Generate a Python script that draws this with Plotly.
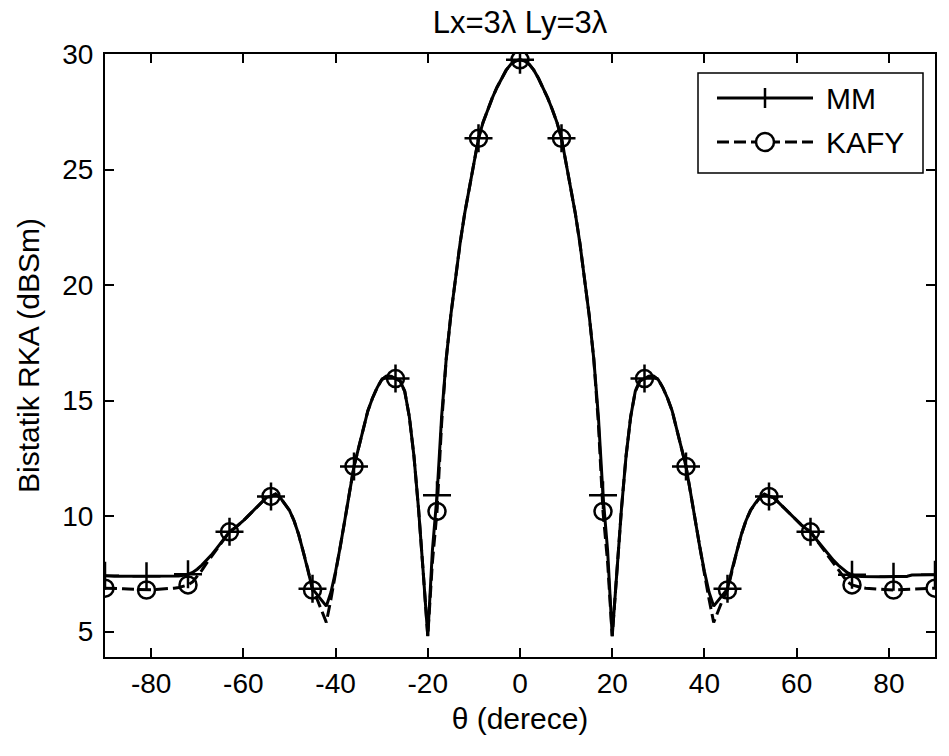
import plotly.graph_objects as go

# Bistatic RCS of a 3λ x 3λ plate: MoM (MM) versus the KAFY approximation
THETA = list(range(-90, 91))

MM = [
    7.42, 7.40, 7.40, 7.40, 7.40, 7.40, 7.40, 7.40, 7.40, 7.40,      # -90..-81
    7.40, 7.40, 7.40, 7.40, 7.40, 7.40, 7.41, 7.44, 7.48, 7.56,      # -80..-71
    7.70, 7.88, 8.08, 8.30, 8.55, 8.80, 9.05, 9.32, 9.46, 9.62,      # -70..-61
    9.80, 10.00, 10.20, 10.40, 10.60, 10.80, 10.85, 10.95, 10.80, 10.55,  # -60..-51
    10.25, 9.80, 9.20, 8.45, 7.70, 6.85, 6.60, 6.35, 6.10, 6.70,     # -50..-41
    7.60, 8.65, 9.80, 11.00, 12.15, 12.95, 13.75, 14.55, 15.10, 15.55,  # -40..-31
    15.90, 16.05, 16.05, 15.95, 15.85, 15.40, 14.30, 12.60, 10.30, 7.60,  # -30..-21
    4.80, 8.50, 10.90, 14.30, 16.80, 18.70, 20.30, 21.80, 23.10, 24.20,  # -20..-11
    25.30, 26.35, 27.05, 27.60, 28.10, 28.55, 28.95, 29.30, 29.55, 29.70,  # -10..-1
    29.75,                                                            # 0
    29.70, 29.55, 29.30, 28.95, 28.55, 28.10, 27.60, 27.05, 26.35, 25.30,  # 1..10
    24.20, 23.10, 21.80, 20.30, 18.70, 16.80, 14.30, 10.90, 8.50, 4.80,  # 11..20
    7.60, 10.30, 12.60, 14.30, 15.40, 15.85, 15.95, 16.05, 16.05, 15.90,  # 21..30
    15.55, 15.10, 14.55, 13.75, 12.95, 12.15, 11.00, 9.80, 8.65, 7.60,  # 31..40
    6.70, 6.10, 6.35, 6.60, 6.85, 7.70, 8.45, 9.20, 9.80, 10.25,     # 41..50
    10.55, 10.80, 10.95, 10.85, 10.80, 10.60, 10.40, 10.20, 10.00, 9.80,  # 51..60
    9.62, 9.46, 9.32, 9.05, 8.80, 8.55, 8.30, 8.08, 7.88, 7.70,      # 61..70
    7.55, 7.46, 7.40, 7.38, 7.37, 7.37, 7.37, 7.37, 7.37, 7.37,      # 71..80
    7.37, 7.37, 7.38, 7.40, 7.45, 7.46, 7.46, 7.46, 7.46, 7.46,      # 81..90
]

KAFY = [
    6.88, 6.88, 6.87, 6.86, 6.85, 6.84, 6.83, 6.82, 6.81, 6.80,      # -90..-81
    6.81, 6.82, 6.83, 6.84, 6.86, 6.88, 6.91, 6.95, 7.02, 7.15,      # -80..-71
    7.38, 7.65, 7.95, 8.22, 8.50, 8.80, 9.05, 9.32, 9.46, 9.62,      # -70..-61
    9.80, 10.00, 10.20, 10.40, 10.60, 10.80, 10.85, 10.95, 10.80, 10.55,  # -60..-51
    10.25, 9.80, 9.20, 8.45, 7.70, 6.80, 6.40, 5.90, 5.40, 6.40,     # -50..-41
    7.50, 8.65, 9.80, 11.00, 12.15, 12.95, 13.75, 14.55, 15.10, 15.55,  # -40..-31
    15.90, 16.05, 16.05, 15.95, 15.85, 15.40, 14.30, 12.60, 10.30, 7.60,  # -30..-21
    4.80, 8.00, 10.20, 14.00, 16.80, 18.70, 20.30, 21.80, 23.10, 24.20,  # -20..-11
    25.30, 26.35, 27.05, 27.60, 28.10, 28.55, 28.95, 29.30, 29.55, 29.70,  # -10..-1
    29.75,                                                            # 0
    29.70, 29.55, 29.30, 28.95, 28.55, 28.10, 27.60, 27.05, 26.35, 25.30,  # 1..10
    24.20, 23.10, 21.80, 20.30, 18.70, 16.80, 14.00, 10.20, 8.00, 4.80,  # 11..20
    7.60, 10.30, 12.60, 14.30, 15.40, 15.85, 15.95, 16.05, 16.05, 15.90,  # 21..30
    15.55, 15.10, 14.55, 13.75, 12.95, 12.15, 11.00, 9.80, 8.65, 7.50,  # 31..40
    6.40, 5.40, 5.90, 6.40, 6.80, 7.70, 8.45, 9.20, 9.80, 10.25,     # 41..50
    10.55, 10.80, 10.95, 10.85, 10.80, 10.60, 10.40, 10.20, 10.00, 9.80,  # 51..60
    9.62, 9.46, 9.32, 9.05, 8.80, 8.50, 8.22, 7.95, 7.65, 7.38,      # 61..70
    7.15, 7.02, 6.95, 6.91, 6.88, 6.86, 6.84, 6.83, 6.82, 6.81,      # 71..80
    6.80, 6.81, 6.82, 6.83, 6.84, 6.85, 6.86, 6.87, 6.88, 6.88,      # 81..90
]

MARKER_STEP = 9  # a marker every 9 degrees, starting at -90

X_TICKS = [-80, -60, -40, -20, 0, 20, 40, 60, 80]
X_TICK_TEXT = ["-80", "-60", "-40", "-20", "0", "20", "40", "60", "80"]
Y_TICKS = [5, 10, 15, 20, 25, 30]
Y_TICK_TEXT = ["5", "10", "15", "20", "25", "30"]
X_RANGE = [-90, 90]
Y_RANGE = [3.9, 30]

TITLE = "Lx=3λ Ly=3λ"
X_LABEL = "θ (derece)"
Y_LABEL = "Bistatik RKA (dBSm)"
SERIES_NAMES = ["MM", "KAFY"]

FONT = "Liberation Sans, Arial, sans-serif"
W, H = 949, 756
ML, MR, MT, MB = 105, 14, 54, 99

theta_m = THETA[::MARKER_STEP]
mm_m = MM[::MARKER_STEP]
kafy_m = KAFY[::MARKER_STEP]

fig = go.Figure()

# MM: solid line, "+" markers
fig.add_trace(go.Scatter(x=THETA, y=MM, mode="lines", showlegend=False,
                         line=dict(color="black", width=3)))
fig.add_trace(go.Scatter(x=theta_m, y=mm_m, mode="markers", showlegend=False,
                         marker=dict(symbol="cross-thin-open", size=20, color="black",
                                     line=dict(color="black", width=2.5))))

# KAFY: dashed line, "o" markers
fig.add_trace(go.Scatter(x=THETA, y=KAFY, mode="lines", showlegend=False,
                         line=dict(color="black", width=3, dash="12px,5px")))
fig.add_trace(go.Scatter(x=theta_m, y=kafy_m, mode="markers", showlegend=False,
                         marker=dict(symbol="circle-open", size=17, color="black",
                                     line=dict(color="black", width=2.5))))

# boxed legend drawn in paper coordinates (pixel helpers)
pw, ph = W - ML - MR, H - MT - MB


def fx(px):
    return (px - ML) / pw


def fy(py):
    return (H - MB - py) / ph


shapes = []
shapes.append(dict(type="rect", xref="paper", yref="paper",
                   x0=fx(698), x1=fx(923), y0=fy(173), y1=fy(73),
                   line=dict(color="black", width=1.5), fillcolor="white", layer="above"))
# MM sample
y1 = 98
shapes.append(dict(type="line", xref="paper", yref="paper",
                   x0=fx(717), x1=fx(813), y0=fy(y1), y1=fy(y1),
                   line=dict(color="black", width=3), layer="above"))
shapes.append(dict(type="line", xref="paper", yref="paper",
                   x0=fx(765), x1=fx(765), y0=fy(y1 - 10), y1=fy(y1 + 10),
                   line=dict(color="black", width=2.5), layer="above"))
# KAFY sample
y2 = 142
shapes.append(dict(type="line", xref="paper", yref="paper",
                   x0=fx(717), x1=fx(813), y0=fy(y2), y1=fy(y2),
                   line=dict(color="black", width=3, dash="12px,5px"), layer="above"))
shapes.append(dict(type="circle", xref="paper", yref="paper",
                   xsizemode="pixel", ysizemode="pixel",
                   xanchor=fx(765), yanchor=fy(y2),
                   x0=-9, x1=9, y0=-9, y1=9,
                   line=dict(color="black", width=2.5), fillcolor="white", layer="above"))

annotations = [
    dict(xref="paper", yref="paper", x=fx(824), y=fy(y1), text=SERIES_NAMES[0],
         showarrow=False, xanchor="left", yanchor="middle",
         font=dict(family=FONT, size=30, color="black")),
    dict(xref="paper", yref="paper", x=fx(824), y=fy(y2), text=SERIES_NAMES[1],
         showarrow=False, xanchor="left", yanchor="middle",
         font=dict(family=FONT, size=30, color="black")),
]

axis_common = dict(showline=True, linecolor="black", linewidth=2, mirror="ticks",
                   ticks="inside", ticklen=9, tickwidth=1.5, tickcolor="black",
                   showgrid=False, zeroline=False,
                   tickfont=dict(family=FONT, size=28, color="black"))

fig.update_layout(
    width=W, height=H,
    margin=dict(l=ML, r=MR, t=MT, b=MB),
    paper_bgcolor="white", plot_bgcolor="white",
    showlegend=False,
    title=dict(text=TITLE, xref="paper", x=0.5, xanchor="center",
               yref="container", y=1 - 22 / H, yanchor="middle",
               font=dict(family=FONT, size=31, color="black")),
    xaxis=dict(range=X_RANGE, tickvals=X_TICKS, ticktext=X_TICK_TEXT,
               title=dict(text=X_LABEL, standoff=10,
                          font=dict(family=FONT, size=30, color="black")),
               **axis_common),
    yaxis=dict(range=Y_RANGE, tickvals=Y_TICKS, ticktext=Y_TICK_TEXT,
               ticklabelstandoff=4,
               title=dict(text=Y_LABEL, standoff=14,
                          font=dict(family=FONT, size=30, color="black")),
               **axis_common),
    shapes=shapes,
    annotations=annotations,
)

fig.write_html("out.html")
